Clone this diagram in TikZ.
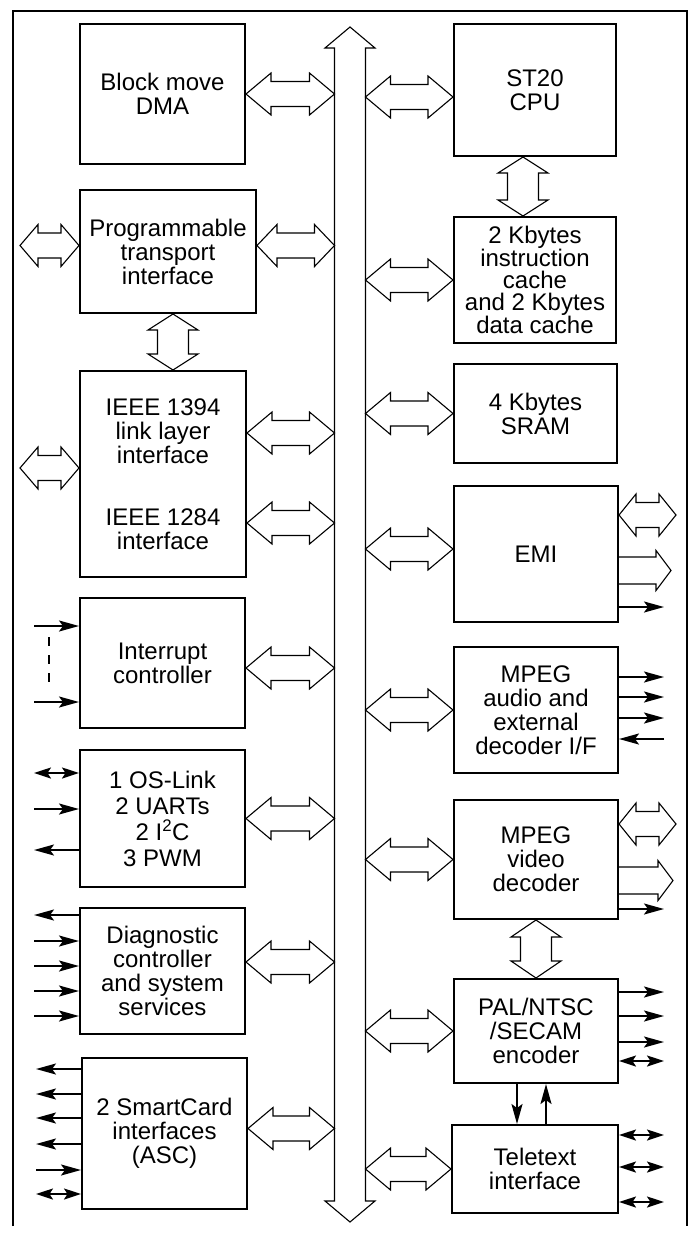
\documentclass[tikz,border=0pt]{standalone}
\usepackage{fontspec}
\setmainfont{Liberation Sans}
\usetikzlibrary{arrows.meta, calc}

% hollow double arrow, left end to right end (same height)
\newcommand{\dblh}[3][25pt]{%
  \draw[hollow] let \p1=#2, \p2=#3 in
    (\x1,\y1) -- (\x1+#1,\y1+21pt) -- (\x1+#1,\y1+12.5pt)
    -- (\x2-#1,\y1+12.5pt) -- (\x2-#1,\y1+21pt) -- (\x2,\y1)
    -- (\x2-#1,\y1-21pt) -- (\x2-#1,\y1-12.5pt)
    -- (\x1+#1,\y1-12.5pt) -- (\x1+#1,\y1-21pt) -- cycle;}
% hollow double arrow, top end to bottom end
\newcommand{\dblv}[3][16pt]{%
  \draw[hollow] let \p1=#2, \p2=#3 in
    (\x1,\y1) -- (\x1+25pt,\y1-#1) -- (\x1+15.5pt,\y1-#1)
    -- (\x1+15.5pt,\y2+#1) -- (\x1+25pt,\y2+#1) -- (\x1,\y2)
    -- (\x1-25pt,\y2+#1) -- (\x1-15.5pt,\y2+#1)
    -- (\x1-15.5pt,\y1-#1) -- (\x1-25pt,\y1-#1) -- cycle;}
% hollow single arrow leaving a box edge
\newcommand{\sglh}[2]{%
  \draw[hollow] let \p1=#1, \p2=#2 in
    (\x1,\y1+13.5pt) -- (\x2-15pt,\y1+13.5pt) -- (\x2-15pt,\y1+20pt)
    -- (\x2,\y1) -- (\x2-15pt,\y1-20pt) -- (\x2-15pt,\y1-13.5pt) -- (\x1,\y1-13.5pt);}

\begin{document}
\begin{tikzpicture}[
  x=1pt, y=-1pt,
  block/.style={
    rectangle,
    draw=black,
    line width=2pt,
    inner sep=0pt,
    align=center,
    font=\fontsize{24}{24}\selectfont
  },
  hollow/.style={draw=black, fill=white, line width=1.1pt, line join=miter},
  frame/.style={draw=black, line width=2pt},
  sig/.style={-{Stealth[length=20pt, width=11pt, inset=4pt]}, line width=2pt},
  sigboth/.style={{Stealth[length=17pt, width=11pt, inset=3.5pt]}-{Stealth[length=17pt, width=11pt, inset=3.5pt]}, line width=2pt},
  gapline/.style={line width=2pt, dash pattern=on 9pt off 9pt}
]
\useasboundingbox (0,0) rectangle (690,1237);
\draw[frame] (13,1226) -- (13,11) -- (687,11) -- (687,1226);

% system bus
\coordinate (bustop) at (350,27);
\coordinate (busbot) at (350,1222);
\coordinate (busW) at ([xshift=-15.5pt]bustop);
\coordinate (busE) at ([xshift=15.5pt]bustop);
\dblv[21pt]{(bustop)}{(busbot)}

% left column
\node[block, minimum width=165pt, minimum height=140pt] (dma) at (162.5,94) {Block move\\DMA};
\node[block, minimum width=176pt, minimum height=123pt] (pti) at (168,251.5) {Programmable\\transport\\interface};
\node[block, minimum width=166pt, minimum height=206pt] (ieee) at (163,474) {IEEE 1394\\link layer\\interface\\[38pt]IEEE 1284\\interface};
\node[block, minimum width=165pt, minimum height=130pt] (irq) at (162.5,663) {Interrupt\\controller};
\node[block, minimum width=165pt, minimum height=137pt, font=\fontsize{24}{26}\selectfont] (oslink) at (162.5,818.5) {1 OS-Link\\2 UARTs\\2 I\textsuperscript{2}C\\3 PWM};
\node[block, minimum width=165pt, minimum height=126pt] (diag) at (162.5,971) {Diagnostic\\controller\\and system\\services};
\node[block, minimum width=165pt, minimum height=151pt] (smart) at (164.5,1133.5) {2 SmartCard\\interfaces\\(ASC)};

% right column
\node[block, minimum width=162pt, minimum height=132pt] (cpu) at (535,90) {ST20\\CPU};
\node[block, minimum width=162pt, minimum height=126pt, font=\fontsize{24}{22}\selectfont] (cache) at (535,280) {2 Kbytes\\instruction\\cache\\and 2 Kbytes\\data cache};
\node[block, minimum width=163pt, minimum height=99pt] (sram) at (535.5,413.5) {4 Kbytes\\SRAM};
\node[block, minimum width=164pt, minimum height=136pt] (emi) at (536,554) {EMI};
\node[block, minimum width=164pt, minimum height=126pt] (audio) at (536,710) {MPEG\\audio and\\external\\decoder I/F};
\node[block, minimum width=164pt, minimum height=119pt] (video) at (536,859.5) {MPEG\\video\\decoder};
\node[block, minimum width=164pt, minimum height=104pt] (pal) at (536,1031) {PAL/NTSC\\/SECAM\\encoder};
\node[block, minimum width=166pt, minimum height=88pt] (tele) at (535,1169) {Teletext\\interface};

% links to the bus
\dblh{(dma.east)}{(dma.east -| busW)}
\dblh[20pt]{([yshift=6pt]pti.east)}{([yshift=6pt]pti.east -| busW)}
\dblh{([yshift=41pt]ieee.east)}{([yshift=41pt]ieee.east -| busW)}
\dblh{([yshift=-49pt]ieee.east)}{([yshift=-49pt]ieee.east -| busW)}
\dblh{([yshift=-5pt]irq.east)}{([yshift=-5pt]irq.east -| busW)}
\dblh{(oslink.east)}{(oslink.east -| busW)}
\dblh{([yshift=9pt]diag.east)}{([yshift=9pt]diag.east -| busW)}
\dblh{([yshift=5pt]smart.east)}{([yshift=5pt]smart.east -| busW)}
\dblh{([yshift=-7pt]cpu.west -| busE)}{([yshift=-7pt]cpu.west)}
\dblh{(cache.west -| busE)}{(cache.west)}
\dblh{(sram.west -| busE)}{(sram.west)}
\dblh{([yshift=5pt]emi.west -| busE)}{([yshift=5pt]emi.west)}
\dblh{(audio.west -| busE)}{(audio.west)}
\dblh{(video.west -| busE)}{(video.west)}
\dblh{(pal.west -| busE)}{(pal.west)}
\dblh{(tele.west -| busE)}{(tele.west)}

% links between blocks
\dblv{([xshift=5pt]pti.south)}{([xshift=5pt]pti.south |- ieee.north)}
\dblv{([xshift=-12pt]cpu.south)}{([xshift=-12pt]cpu.south |- cache.north)}
\dblv[17pt]{(video.south)}{(video.south |- pal.north)}
\draw[sig] ([xshift=-19pt]pal.south) -- ([xshift=-19pt]pal.south |- tele.north);
\draw[sig] ([xshift=10pt]pal.south |- tele.north) -- ([xshift=10pt]pal.south);

% external ports, left
\dblh[18pt]{([xshift=-59pt,yshift=6pt]pti.west)}{([yshift=6pt]pti.west)}
\dblh[18pt]{([xshift=-59pt,yshift=6pt]ieee.west)}{([yshift=6pt]ieee.west)}
\coordinate (irqin1) at ([shift={(-45,29)}]irq.north west);
\coordinate (irqin2) at ([shift={(-45,105)}]irq.north west);
\draw[sig] (irqin1) -- ([shift={(0,29)}]irq.north west);
\draw[sig] (irqin2) -- ([shift={(0,105)}]irq.north west);
\draw[gapline] ([shift={(15,11)}]irqin1) -- ([shift={(15,-11)}]irqin2);
\draw[sigboth] ([shift={(-45,24)}]oslink.north west) -- ([shift={(0,24)}]oslink.north west);
\draw[sig] ([shift={(-45,60)}]oslink.north west) -- ([shift={(0,60)}]oslink.north west);
\draw[sig] ([shift={(0,101)}]oslink.north west) -- ++(-45,0);
\draw[sig] ([shift={(0,8)}]diag.north west) -- ++(-45,0);
\foreach \d in {34,59,84,109}
  \draw[sig] ([shift={(-45,\d)}]diag.north west) -- ([shift={(0,\d)}]diag.north west);
\foreach \d in {12,37,61,87}
  \draw[sig] ([shift={(0,\d)}]smart.north west) -- ++(-45,0);
\draw[sig] ([shift={(-45,113)}]smart.north west) -- ([shift={(0,113)}]smart.north west);
\draw[sigboth] ([shift={(-45,137)}]smart.north west) -- ([shift={(0,137)}]smart.north west);

% external ports, right
\dblh[17pt]{([shift={(0,30)}]emi.north east)}{([shift={(57,30)}]emi.north east)}
\sglh{([shift={(0,85.5)}]emi.north east)}{([shift={(52,85.5)}]emi.north east)}
\draw[sig] ([shift={(0,122)}]emi.north east) -- ++(45,0);
\foreach \d in {31,51,72}
  \draw[sig] ([shift={(0,\d)}]audio.north east) -- ++(45,0);
\draw[sig] ([shift={(45,93)}]audio.north east) -- ([shift={(0,93)}]audio.north east);
\dblh[17pt]{([shift={(0,25)}]video.north east)}{([shift={(57,25)}]video.north east)}
\sglh{([shift={(0,81.5)}]video.north east)}{([shift={(54,81.5)}]video.north east)}
\draw[sig] ([shift={(0,110)}]video.north east) -- ++(45,0);
\foreach \d in {14,38,64}
  \draw[sig] ([shift={(0,\d)}]pal.north east) -- ++(45,0);
\draw[sigboth] ([shift={(0,83)}]pal.north east) -- ++(45,0);
\foreach \d in {11,43,78}
  \draw[sigboth] ([shift={(0,\d)}]tele.north east) -- ++(45,0);
\end{tikzpicture}
\end{document}
